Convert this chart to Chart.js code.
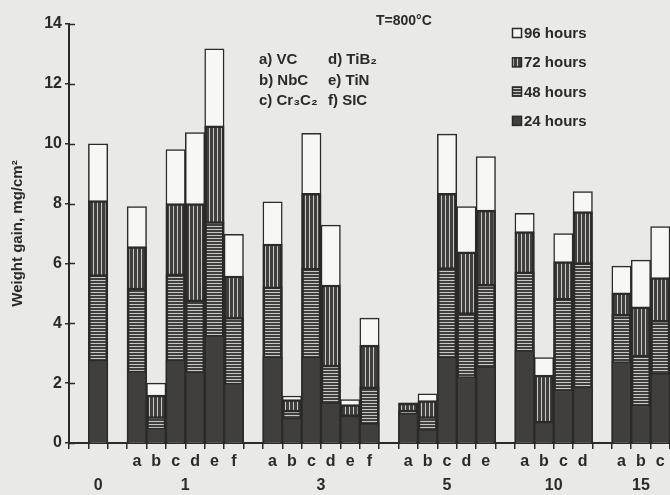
<!DOCTYPE html>
<html><head><meta charset="utf-8">
<script src="https://cdn.jsdelivr.net/npm/chart.js@4.4.1/dist/chart.umd.min.js"></script>
<style>html,body{margin:0;padding:0;background:#e9e9e5;}canvas{display:block;}</style>
</head><body>
<canvas id="c" width="670" height="495"></canvas>
<script>
// ---- data (weight gain, mg/cm2, cumulative) ----
const groupNames   = ['0', '1', '3', '5', '10', '15'];
const groupLetters = [[''], ['a','b','c','d','e','f'], ['a','b','c','d','e','f'], ['a','b','c','d','e'], ['a','b','c','d'], ['a','b','c']];
const gain24 = [2.77, 2.40,0.50,2.77,2.38,3.60,2.00, 2.88,0.83,2.88,1.35,0.90,0.66, 1.00,0.45,2.88,2.22,2.55, 3.10,0.70,1.77,1.88, 2.72,1.27,2.33];
const gain48 = [5.63, 5.18,0.88,5.65,4.78,7.40,4.20, 5.22,1.10,5.84,2.60,0.95,1.88, 1.10,0.88,5.86,4.36,5.30, 5.72,0.72,4.83,6.03, 4.30,2.94,4.10];
const gain72 = [8.10, 6.56,1.60,8.00,8.00,10.60,5.58, 6.65,1.45,8.34,5.28,1.28,3.27, 1.33,1.42,8.34,6.39,7.78, 7.06,2.27,6.06,7.73, 5.02,4.55,5.53];
const gain96 = [10.00, 7.90,2.00,9.80,10.37,13.17,6.97, 8.06,1.57,10.35,7.28,1.45,4.17, 1.34,1.64,10.32,7.90,9.57, 7.67,2.85,7.00,8.40, 5.91,6.11,7.23];
const seriesNames = ['24 hours', '48 hours', '72 hours', '96 hours'];
const yTicks = [0, 2, 4, 6, 8, 10, 12, 14];
const materials = [['a) VC', 'd) TiB\u2082'], ['b) NbC', 'e) TiN'], ['c) Cr\u2083C\u2082', 'f) SIC']];
const tempLabel = 'T=800\u00B0C';
const axisTitle = 'Weight gain, mg/cm\u00B2';

// ---- build slot table (empty slot before each group) ----
const labels = [], s24 = [], s48 = [], s72 = [], s96 = [], groupSpans = [];
let k = 0;
function emptySlot(){ labels.push(''); s24.push(null); s48.push(null); s72.push(null); s96.push(null); }
emptySlot();
groupLetters.forEach((letters, g) => {
  const start = labels.length;
  letters.forEach(l => { labels.push(l); s24.push(gain24[k]); s48.push(gain48[k]); s72.push(gain72[k]); s96.push(gain96[k]); k++; });
  groupSpans.push([groupNames[g], start, labels.length - 1]);
  if (g < groupLetters.length - 1) emptySlot();
});

const FONT = "'Liberation Sans', Arial, Helvetica, sans-serif";
const INK = '#2a2a28', DARK = '#403f3c', LIGHT = '#c9c9c4', PAPER = '#e9e9e5', WHITE = '#f7f7f4';
function makePattern(vertical) {
  const p = vertical ? 4 : 3;
  const c = document.createElement('canvas'); c.width = p; c.height = p;
  const g = c.getContext('2d');
  g.fillStyle = DARK; g.fillRect(0, 0, p, p);
  g.fillStyle = LIGHT;
  if (vertical) g.fillRect(1, 0, 1, p); else g.fillRect(0, 1, p, 1);
  return g.createPattern(c, 'repeat');
}
const vPat = makePattern(true), hPat = makePattern(false);
const fills = [DARK, hPat, vPat, WHITE];
const widths = [1.5, 2.5, 2.5, 1.5];

const datasets = [s24, s48, s72, s96].map((d, i) => ({
  label: seriesNames[i], data: d, backgroundColor: fills[i], borderColor: INK,
  borderWidth: widths[i], borderSkipped: 'start', grouped: false,
  barPercentage: 1, categoryPercentage: 1
}));

const deco = {
  id: 'deco',
  beforeDraw(chart) {
    const c = chart.ctx; c.save(); c.fillStyle = PAPER; c.fillRect(0, 0, chart.width, chart.height); c.restore();
  },
  afterDraw(chart) {
    const c = chart.ctx, x = chart.scales.x, y = chart.scales.y;
    c.save();
    // inner halves of y ticks
    c.strokeStyle = INK; c.lineWidth = 1.5;
    yTicks.forEach(v => { const py = Math.round(y.getPixelForValue(v)) + 0.5; c.beginPath(); c.moveTo(x.left, py); c.lineTo(x.left + 6, py); c.stroke(); });
    c.fillStyle = INK;
    // group labels
    c.font = 'bold 16px ' + FONT; c.textAlign = 'center'; c.textBaseline = 'middle';
    groupSpans.forEach(([n, a, b]) => c.fillText(n, x.getPixelForValue((a + b) / 2), 486));
    // legend
    c.textAlign = 'left'; c.font = 'bold 15px ' + FONT;
    const order = [3, 2, 1, 0];
    order.forEach((di, r) => {
      const cy = 33 + r * 29.3;
      c.fillStyle = fills[di]; c.fillRect(512, cy - 5, 10, 10);
      c.strokeStyle = INK; c.lineWidth = 1.5; c.strokeRect(512.5, cy - 4.5, 9, 9);
      c.fillStyle = INK; c.fillText(chart.data.datasets[di].label, 524, cy + 1);
    });
    // annotations
    c.font = 'bold 14px ' + FONT;
    c.fillText(tempLabel, 376, 21);
    c.font = 'bold 15px ' + FONT;
    materials.forEach((row, r) => { const cy = 60 + r * 20.5; c.fillText(row[0], 259, cy); c.fillText(row[1], 328, cy); });
    c.restore();
  }
};

new Chart(document.getElementById('c'), {
  type: 'bar',
  data: { labels, datasets },
  plugins: [deco],
  options: {
    responsive: false, animation: false,
    layout: { padding: { top: 24, right: 0, left: 0, bottom: 0 } },
    plugins: { legend: { display: false }, tooltip: { enabled: false } },
    scales: {
      x: {
        offset: true,
        grid: { offset: true, drawOnChartArea: false, drawTicks: true, tickLength: 6, color: INK, lineWidth: 1.5 },
        border: { display: true, color: INK, width: 2 },
        ticks: { autoSkip: false, maxRotation: 0, color: INK, padding: 3, font: { family: FONT, size: 16, weight: 'bold' } },
        afterFit(s) { s.height = 52; }
      },
      y: {
        min: 0, max: 14,
        afterBuildTicks(s) { s.ticks = yTicks.map(v => ({ value: v })); },
        grid: { drawOnChartArea: false, tickLength: 4, color: INK, lineWidth: 1.5 },
        border: { display: true, color: INK, width: 2 },
        ticks: { color: INK, padding: 3, font: { family: FONT, size: 16, weight: 'bold' } },
        title: { display: true, text: axisTitle, color: INK, padding: { top: 9, bottom: 0 }, font: { family: FONT, size: 15, weight: 'bold' } },
        afterFit(s) { s.width = 69; }
      }
    }
  }
});
</script>
</body></html>
